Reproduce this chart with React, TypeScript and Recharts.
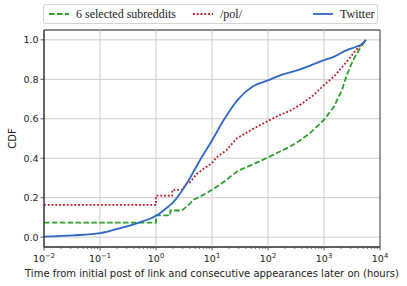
import React from 'react'
import {
  CartesianGrid,
  Label,
  Legend,
  Line,
  LineChart,
  ReferenceArea,
  ReferenceLine,
  XAxis,
  YAxis,
} from 'recharts'

// ─── Données ──────────────────────────────────────────────────────────────────

const subredditX = [0.01, 1, 1, 1.8, 1.8, 2.9, 4.05, 4.7, 7.9, 10, 15.9, 29.5, 55, 100, 164, 245, 372, 560, 1000, 1490, 2090, 2540, 3300, 4370, 5620]
const subredditY = [0.074, 0.074, 0.11, 0.11, 0.135, 0.135, 0.17, 0.19, 0.222, 0.24, 0.278, 0.337, 0.37, 0.404, 0.434, 0.458, 0.49, 0.527, 0.594, 0.66, 0.745, 0.82, 0.897, 0.956, 1.0]

const polX = [0.01, 1, 1, 1.95, 1.95, 2.9, 3.5, 4.05, 5.3, 7, 10, 12, 18, 27.5, 55, 100, 164, 245, 372, 650, 1000, 1490, 2540, 3300, 4370, 5620]
const polY = [0.164, 0.164, 0.21, 0.21, 0.24, 0.24, 0.27, 0.278, 0.32, 0.345, 0.375, 0.404, 0.44, 0.5, 0.55, 0.589, 0.62, 0.64, 0.67, 0.72, 0.771, 0.813, 0.889, 0.93, 0.97, 1.0]

const twitterX = [0.01, 0.033, 0.1, 0.26, 0.5, 0.78, 1, 1.5, 2, 3, 4.05, 6.1, 10, 15.9, 29.5, 55, 100, 164, 372, 1000, 1490, 2540, 3800, 4690, 5620]
const twitterY = [0.003, 0.009, 0.02, 0.05, 0.074, 0.093, 0.108, 0.145, 0.175, 0.24, 0.3, 0.39, 0.49, 0.59, 0.7, 0.766, 0.795, 0.82, 0.85, 0.897, 0.914, 0.948, 0.965, 0.977, 1.0]

const majorTicks = [0.01, 0.1, 1, 10, 100, 1000, 10000]
const minorSteps = [2, 3, 4, 5, 6, 7, 8, 9]
const yTicks = [0, 0.2, 0.4, 0.6, 0.8, 1.0]

const toPoints = (xs: number[], ys: number[]) => xs.map((x, i) => ({ x, y: ys[i] }))

const series = [
  { key: 'sub', name: '6 selected subreddits', color: '#2ca02c', dash: '5.5 2.4', curve: 'linear', data: toPoints(subredditX, subredditY) },
  { key: 'pol', name: '/pol/', color: '#c0161c', dash: '1.8 2', curve: 'linear', data: toPoints(polX, polY) },
  { key: 'tw', name: 'Twitter', color: '#2e67c6', dash: undefined, curve: 'monotoneX', data: toPoints(twitterX, twitterY) },
]

const allTicks = [
  ...majorTicks,
  ...majorTicks.slice(0, -1).flatMap((d) => minorSteps.map((m) => m * d)),
].sort((a, b) => a - b)

const AXIS_FONT = '"DejaVu Sans", sans-serif'
const GRID = '#cccccc'
const SPINE = '#333333'

// ─── Ticks en puissances de 10 ────────────────────────────────────────────────

function LogTick(props: any) {
  const { x, y, payload } = props
  const v: number = payload.value
  const exp = Math.round(Math.log10(v))
  const isMajor = Math.abs(Math.log10(v) - exp) < 1e-6
  if (!isMajor) {
    return <line x1={x} x2={x} y1={y} y2={y + 2} stroke={SPINE} strokeWidth={0.7} />
  }
  const expLabel = exp < 0 ? `\u2212${-exp}` : `${exp}`
  return (
    <g>
      <line x1={x} x2={x} y1={y} y2={y + 3.5} stroke={SPINE} strokeWidth={0.8} />
      <text x={x} y={y + 15} textAnchor="middle" fontFamily={AXIS_FONT} fontSize={9.5} fill="#222">
        <tspan>10</tspan>
        <tspan dy={-4} fontSize={6.8}>{expLabel}</tspan>
      </text>
    </g>
  )
}

// ─── Légende encadrée ─────────────────────────────────────────────────────────

const legendOffsets = [5, 149, 269]

function BoxLegend() {
  return (
    <div style={{ paddingBottom: 6 }}>
      <div
        style={{
          position: 'relative',
          width: 333,
          height: 18,
          border: '1px solid #d4d4d4',
          borderRadius: 2,
          background: '#fff',
          fontFamily: '"Liberation Serif", serif',
          fontSize: 12,
          color: '#222',
        }}
      >
        {series.map((s, i) => (
          <div
            key={s.key}
            style={{ position: 'absolute', left: legendOffsets[i], top: 0, height: 18, display: 'flex', alignItems: 'center', whiteSpace: 'nowrap' }}
          >
            <svg width={20} height={6} style={{ marginRight: 7 }}>
              <line x1={0} x2={20} y1={3} y2={3} stroke={s.color} strokeWidth={1.8} strokeDasharray={s.dash} />
            </svg>
            <span>{s.name}</span>
          </div>
        ))}
      </div>
    </div>
  )
}

// ─── Graphique ────────────────────────────────────────────────────────────────

export default function App(): React.JSX.Element {
  return (
    <div style={{ position: 'absolute', left: 0, top: 0 }}>
      <LineChart width={407} height={286} margin={{ top: 4, right: 27, bottom: 0, left: 0 }}>
        <CartesianGrid vertical={false} stroke={GRID} strokeWidth={1} />
        {majorTicks.slice(1, -1).map((t) => (
          <ReferenceLine key={t} x={t} stroke={GRID} strokeWidth={1} />
        ))}
        <XAxis
          dataKey="x"
          type="number"
          scale="log"
          domain={[0.01, 10000]}
          allowDataOverflow
          ticks={allTicks}
          interval={0}
          tick={<LogTick />}
          tickLine={false}
          tickSize={0}
          tickMargin={0}
          axisLine={{ stroke: SPINE, strokeWidth: 1 }}
          height={39}
        >
          <Label
            value="Time from initial post of link and consecutive appearances later on (hours)"
            position="insideBottom"
            offset={9}
            style={{ fontFamily: AXIS_FONT, fontSize: 10, fill: '#222' }}
          />
        </XAxis>
        <YAxis
          type="number"
          domain={[-0.05, 1.05]}
          ticks={yTicks}
          interval={0}
          width={44}
          tickFormatter={(v: number) => v.toFixed(1)}
          tick={{ fontFamily: AXIS_FONT, fontSize: 9.5, fill: '#222' }}
          tickSize={3.5}
          tickMargin={2}
          tickLine={{ stroke: SPINE, strokeWidth: 0.8 }}
          axisLine={{ stroke: SPINE, strokeWidth: 1 }}
        >
          <Label
            content={({ viewBox }: any) => {
              const cx = viewBox.x + 12
              const cy = viewBox.y + viewBox.height / 2
              return (
                <text x={cx} y={cy} transform={`rotate(-90, ${cx}, ${cy})`} textAnchor="middle" dominantBaseline="central" fontFamily={AXIS_FONT} fontSize={10} fill="#222">
                  CDF
                </text>
              )
            }}
          />
        </YAxis>
        <ReferenceArea x1={0.01} x2={10000} y1={-0.05} y2={1.05} fill="none" stroke={SPINE} strokeWidth={1} ifOverflow="visible" />
        <Legend verticalAlign="top" align="left" content={<BoxLegend />} wrapperStyle={{ left: 43, top: 4, width: 335 }} />
        {series.map((s) => (
          <Line
            key={s.key}
            data={s.data}
            dataKey="y"
            name={s.name}
            type={s.curve as any}
            stroke={s.color}
            strokeWidth={1.8}
            strokeDasharray={s.dash}
            dot={false}
            isAnimationActive={false}
          />
        ))}
      </LineChart>
    </div>
  )
}
